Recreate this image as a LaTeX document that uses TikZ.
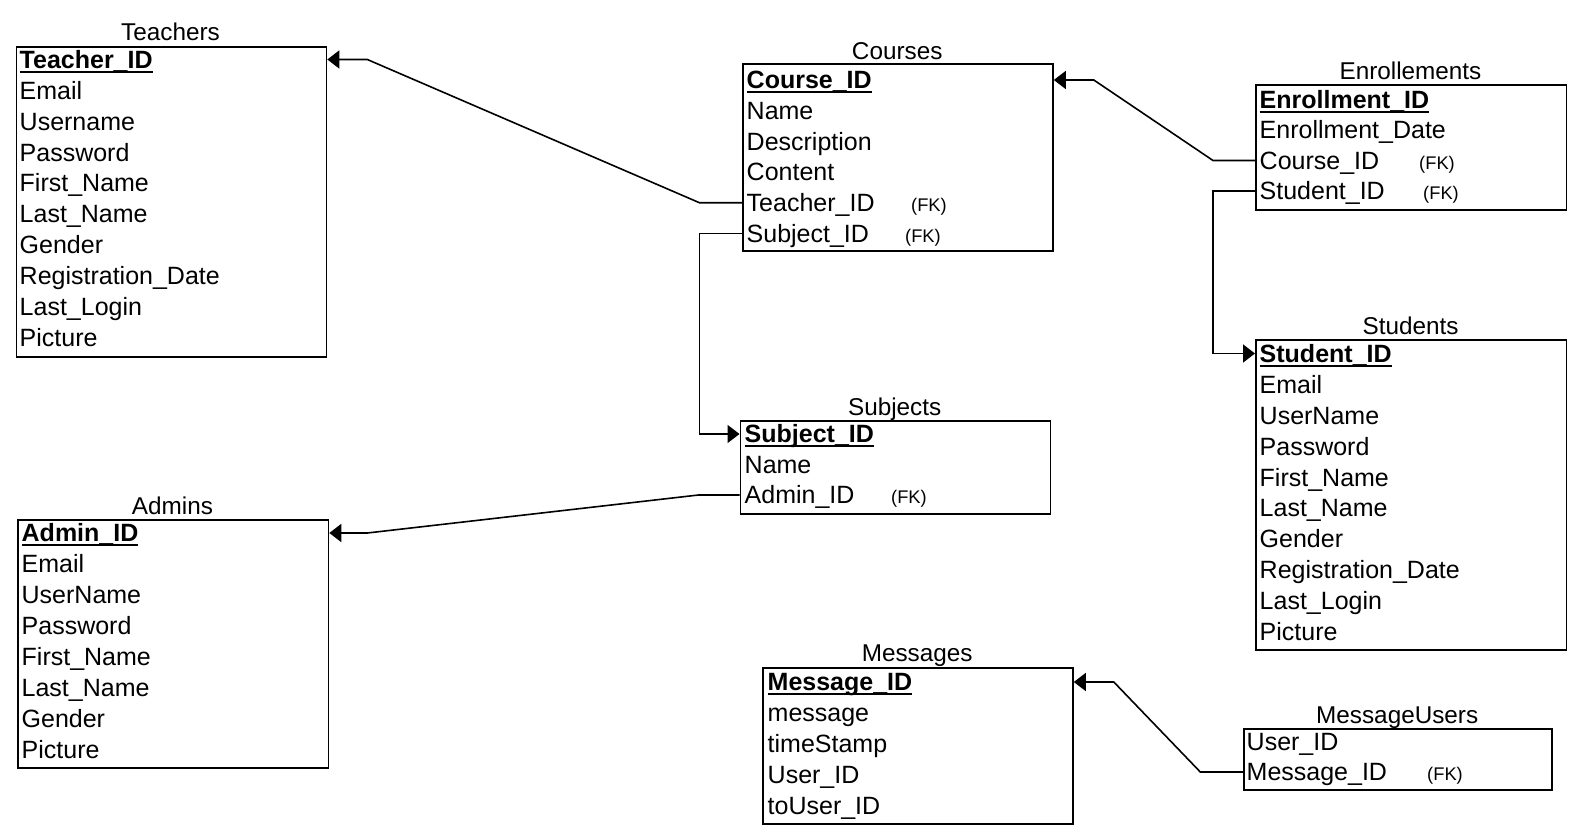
\documentclass[tikz,border=0pt]{standalone}
\usepackage{fontspec}
\setmainfont{Liberation Sans}
\usetikzlibrary{arrows.meta,calc}
\newcommand\pkey[1]{{\bfseries\setbox0\hbox{#1}\rlap{\rule[-4.4pt]{\wd0}{2pt}}\box0}}
\tikzset{
  row/.style={anchor=west, inner sep=0pt, text height=17.8pt, text depth=0pt, font=\fontsize{25}{29}\selectfont},
  ttl/.style={anchor=base, inner sep=0pt, font=\fontsize{24.3}{28}\selectfont},
  tbl/.style={draw, line width=1.8pt, anchor=north west, inner sep=0pt},
  fklab/.style={anchor=base, inner sep=0pt, font=\fontsize{18.3}{20}\selectfont},
  link/.style={line width=1.6pt, -{Triangle[length=12pt,width=18pt]}},
}
\begin{document}
\begin{tikzpicture}[x=1pt,y=-1pt]
\useasboundingbox[fill=white] (0,0) rectangle (1580,837);

% Teachers
\node[tbl, minimum width=310pt, minimum height=309.7pt] (teachers) at (15.5,46) {};
\node[ttl] (teachers-t) at (170.5,41) {Teachers};
\foreach \t [count=\i] in {\pkey{Teacher\_ID},Email,Username,Password,First\_Name,Last\_Name,Gender,Registration\_Date,Last\_Login,Picture}
  \node[row] (T\i) at (19.5,{59.5+30.9*(\i-1)}) {\t};

% Courses
\node[tbl, minimum width=310pt, minimum height=186.7pt] (courses) at (742,63.3) {};
\node[ttl] (courses-t) at (897.2,59.5) {Courses};
\foreach \t [count=\i] in {\pkey{Course\_ID},Name,Description,Content,Teacher\_ID,Subject\_ID}
  \node[row] (C\i) at (746.5,{80+30.7*(\i-1)}) {\t};
\node[fklab] (c5fk) at (929,211.6) {(FK)};
\node[fklab] (c6fk) at (923,242.3) {(FK)};

% Enrollements
\node[tbl, minimum width=310.5pt, minimum height=124.7pt] (enrol) at (1255,84.3) {};
\node[ttl] (enrol-t) at (1410.5,79.5) {Enrollements};
\foreach \t [count=\i] in {\pkey{Enrollment\_ID},Enrollment\_Date,Course\_ID,Student\_ID}
  \node[row] (E\i) at (1259.5,{99.5+30.5*(\i-1)}) {\t};
\node[fklab] (e3fk) at (1437,169.2) {(FK)};
\node[fklab] (e4fk) at (1441,199.7) {(FK)};

% Students
\node[tbl, minimum width=310.5pt, minimum height=310pt] (students) at (1255,339.3) {};
\node[ttl] (students-t) at (1410.5,334.5) {Students};
\foreach \t [count=\i] in {\pkey{Student\_ID},Email,UserName,Password,First\_Name,Last\_Name,Gender,Registration\_Date,Last\_Login,Picture}
  \node[row] (ST\i) at (1259.5,{353.5+30.9*(\i-1)}) {\t};

% Subjects
\node[tbl, minimum width=310pt, minimum height=93pt] (subjects) at (739.5,420) {};
\node[ttl] (subjects-t) at (894.7,415) {Subjects};
\foreach \t [count=\i] in {\pkey{Subject\_ID},Name,Admin\_ID}
  \node[row] (S\i) at (744.5,{434+30.5*(\i-1)}) {\t};
\node[fklab] (s3fk) at (909,503.7) {(FK)};

% Admins
\node[tbl, minimum width=310.5pt, minimum height=247.7pt] (admins) at (17,519) {};
\node[ttl] (admins-t) at (172.5,514) {Admins};
\foreach \t [count=\i] in {\pkey{Admin\_ID},Email,UserName,Password,First\_Name,Last\_Name,Gender,Picture}
  \node[row] (A\i) at (21.5,{533+31*(\i-1)}) {\t};

% Messages
\node[tbl, minimum width=310pt, minimum height=155.4pt] (messages) at (762,667.3) {};
\node[ttl] (messages-t) at (917.2,661.8) {Messages};
\foreach \t [count=\i] in {\pkey{Message\_ID},message,timeStamp,User\_ID,toUser\_ID}
  \node[row] (M\i) at (767.5,{682+31*(\i-1)}) {\t};

% MessageUsers
\node[tbl, minimum width=308pt, minimum height=61pt] (mu) at (1243,728.3) {};
\node[ttl] (mu-t) at (1397.2,723.7) {MessageUsers};
\foreach \t [count=\i] in {User\_ID,Message\_ID}
  \node[row] (MU\i) at (1246.5,{741.7+30.3*(\i-1)}) {\t};
\node[fklab] (mu2fk) at (1445,780.7) {(FK)};

% Connectors
\draw[link] (courses.west |- C5) -- ++(-42.4,0) -- ($(teachers.east |- T1)+(40,0)$) -- (teachers.east |- T1);
\draw[link] (courses.west |- C6) -- ++(-42.4,0) |- (subjects.west |- S1);
\draw[link] (enrol.west |- E3) -- ++(-42,0) -- ($(courses.east |- C1)+(40,0)$) -- (courses.east |- C1);
\draw[link] (enrol.west |- E4) -- ++(-42,0) |- (students.west |- ST1);
\draw[link] (subjects.west |- S3) -- ++(-41,0) -- ($(admins.east |- A1)+(38,0)$) -- (admins.east |- A1);
\draw[link] (mu.west |- MU2) -- ++(-42.7,0) -- ($(messages.east |- M1)+(40,0)$) -- (messages.east |- M1);
\end{tikzpicture}
\end{document}
